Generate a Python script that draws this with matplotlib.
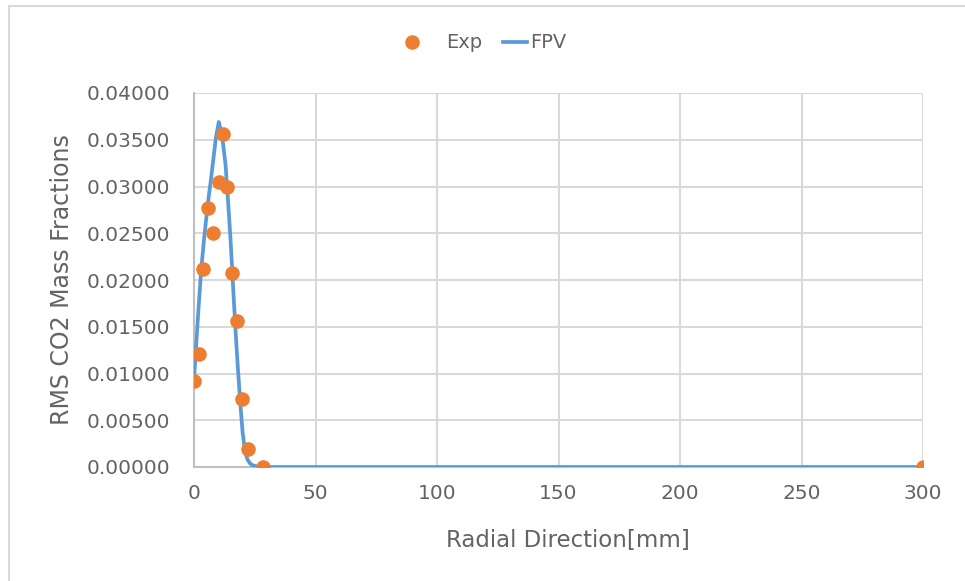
import matplotlib
matplotlib.use("Agg")
import matplotlib.pyplot as plt
from matplotlib.patches import Rectangle

# measured points (Exp)
exp_x = [0, 2.2, 3.6, 5.8, 7.9, 10.2, 12.1, 13.7, 15.6, 17.8, 19.8, 22.2, 28.5, 300]
exp_y = [0.00923, 0.01209, 0.02114, 0.02767, 0.02500, 0.03050, 0.03560, 0.02990,
         0.02080, 0.01560, 0.00730, 0.00190, 0.00000, 0.00000]

# simulation (FPV)
fpv_x = [0, 1, 2, 3, 4, 5, 6, 7, 8, 9, 10.2, 11, 12, 13, 14, 15, 16, 17, 18, 19,
         20, 21, 22, 23, 24, 26, 28, 30, 50, 100, 150, 200, 250, 300]
fpv_y = [0.0093, 0.0135, 0.0175, 0.0212, 0.0240, 0.0265, 0.0288, 0.0308, 0.0330,
         0.0352, 0.0369, 0.0360, 0.0345, 0.0323, 0.0285, 0.0245, 0.0197, 0.0150,
         0.0108, 0.0070, 0.0037, 0.0017, 0.0008, 0.0004, 0.0002, 0.00005, 0.0,
         0.0, 0.0, 0.0, 0.0, 0.0, 0.0, 0.0]

x_ticks = [0, 50, 100, 150, 200, 250, 300]
y_ticks = [0.0, 0.005, 0.01, 0.015, 0.02, 0.025, 0.03, 0.035, 0.04]

orange = "#ED7D31"
blue = "#5B9BD5"
grid_c = "#D9D9D9"
text_c = "#636363"

plt.rcParams["font.family"] = ["DejaVu Sans"]

fig = plt.figure(figsize=(9.65, 5.81), dpi=100)
ax = fig.add_axes([194 / 965, 1 - 467 / 581, (923 - 194) / 965, (467 - 93) / 581])

fpv_line, = ax.plot(fpv_x, fpv_y, color=blue, lw=2.7, label="FPV", zorder=3)
exp_pts, = ax.plot(exp_x, exp_y, "o", color=orange, ms=10.5, mec="none", label="Exp", zorder=4)

ax.set_xlim(0, 300)
ax.set_ylim(0, 0.04)
ax.set_xticks(x_ticks)
ax.set_yticks(y_ticks)
ax.set_yticklabels([f"{v:.5f}" for v in y_ticks])
ax.tick_params(length=0, labelsize=14.5, labelcolor=text_c)
ax.tick_params(axis="y", pad=17)
ax.tick_params(axis="x", pad=12)
ax.grid(True, color=grid_c, lw=1.5)
ax.set_axisbelow(True)
for side in ["top", "right"]:
    ax.spines[side].set_visible(False)
for side in ["left", "bottom"]:
    ax.spines[side].set_color("#BFBFBF")
    ax.spines[side].set_linewidth(1.5)

ax.set_xlabel("Radial Direction[mm]", fontsize=16.5, color=text_c, labelpad=19)
ax.xaxis.label.set_x(0.513)
ax.set_ylabel("RMS CO2 Mass Fractions", fontsize=17, color=text_c, labelpad=9)

# legend entries placed separately to match spacing
leg_kw = dict(loc="center left", frameon=False, fontsize=14, labelcolor=text_c,
              handlelength=1.24, borderpad=0, borderaxespad=0)
fig.legend([exp_pts], ["Exp"], bbox_to_anchor=(400 / 965, 1 - 43 / 581),
           handletextpad=1.13, **leg_kw)
fig.legend([fpv_line], ["FPV"], bbox_to_anchor=(503 / 965, 1 - 43 / 581),
           handletextpad=0.15, **leg_kw)

# chart frame (only left and top edges visible in the crop)
fig.add_artist(Rectangle((9 / 965, -0.1), 1.2, 1.1 - 6 / 581, transform=fig.transFigure,
                         fill=False, ec=grid_c, lw=1.5))

fig.savefig("out.png", dpi=100)
